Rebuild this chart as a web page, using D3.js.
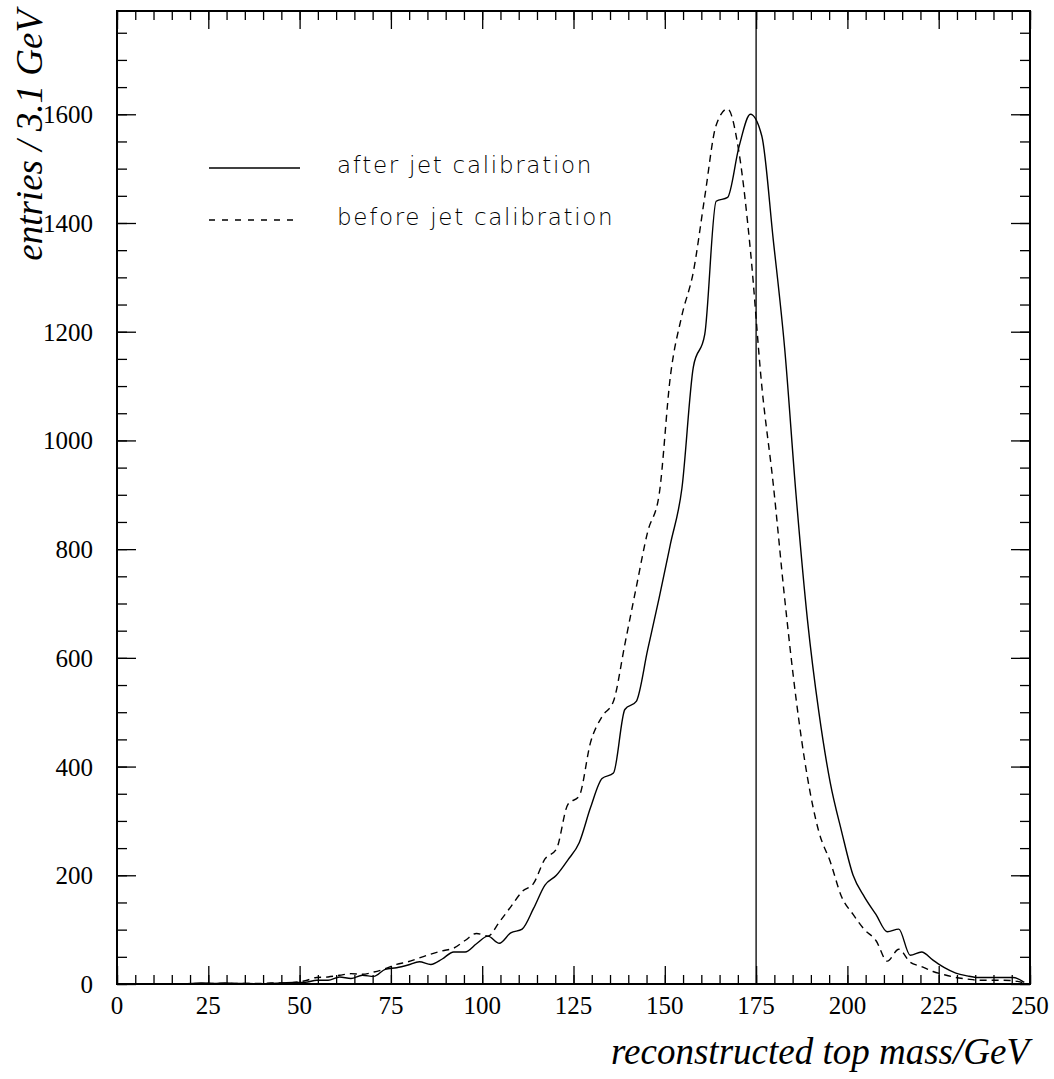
<!DOCTYPE html>
<html>
<head>
<meta charset="utf-8">
<script src="https://cdn.jsdelivr.net/npm/d3@7"></script>
<style>
body{margin:0;background:#fff;}
</style>
</head>
<body>
<svg id="chart" width="1054" height="1079"></svg>
<script>
// bin centres, 80 bins of 3.125 GeV from 0 to 250
const binWidth=3.125;
const centers=d3.range(80).map(i=>(i+0.5)*binWidth);

const after=[0,0,0,0,0,0,1,2,1,2,1,1,0,1,2,3,
    3,7,7,13,10,16,14,27,30,35,41,36,46,59,59,74,
    88,75,94,101,139,182,200,228,260,325,378,388,505,520,615,710,
    810,912,1135,1195,1440,1447,1540,1600,1560,1370,1170,900,670,500,
    370,280,200,160,128,96,101,53,59,44,30,20,15,12,12,12,12,3];

const before=[0,0,0,0,0,0,0,1,1,1,1,1,1,2,2,3,
    6,12,13,16,19,18,22,28,36,41,48,55,61,66,80,93,
    88,114,142,170,185,230,248,330,346,445,492,520,625,730,832,900,
    1120,1230,1310,1448,1580,1610,1530,1350,1100,920,710,525,380,280,
    225,160,128,100,80,42,64,40,32,23,17,12,9,7,7,7,6,2];

const legendLabels=["after jet calibration","before jet calibration"];
const xTicks=[0,25,50,75,100,125,150,175,200,225,250];
const yTicks=[0,200,400,600,800,1000,1200,1400,1600];
const topMass=175;

const svg=d3.select("#chart");
const margin={top:11,right:24,bottom:95,left:117};
const width=+svg.attr("width")-margin.left-margin.right;
const height=+svg.attr("height")-margin.top-margin.bottom;
const g=svg.append("g").attr("transform",`translate(${margin.left},${margin.top})`);

const x=d3.scaleLinear().domain([0,250]).range([0,width]);
const y=d3.scaleLinear().domain([0,1790]).range([height,0]);

const serif="'Liberation Serif','Times New Roman',serif";
const light="'DejaVu Sans ExtraLight','DejaVu Sans',sans-serif";

// ticks on all four sides, pointing inward
function ticks(axis,scale,values,len){
    return axis(scale).tickValues(values).tickSize(-len).tickFormat("");
}
const xMinor=d3.range(0,251,5), xMajor=d3.range(0,251,25);
const yMinor=d3.range(0,1790,50), yMajor=d3.range(0,1790,200);

[[9,xMinor],[18,xMajor]].forEach(([len,vals])=>{
    g.append("g").attr("transform",`translate(0,${height})`).call(ticks(d3.axisBottom,x,vals,len));
    g.append("g").call(ticks(d3.axisTop,x,vals,len));
});
[[10,yMinor],[19,yMajor]].forEach(([len,vals])=>{
    g.append("g").call(ticks(d3.axisLeft,y,vals,len));
    g.append("g").attr("transform",`translate(${width},0)`).call(ticks(d3.axisRight,y,vals,len));
});
g.selectAll(".domain").remove();
g.selectAll(".tick line").attr("stroke","#000").attr("stroke-width",1.3);

// tick labels
g.append("g").selectAll("text").data(xTicks).enter().append("text")
    .attr("x",d=>x(d)).attr("y",height+30)
    .attr("text-anchor","middle")
    .style("font-family",serif).style("font-size","25px")
    .text(d=>d);
g.append("g").selectAll("text").data(yTicks).enter().append("text")
    .attr("x",-24).attr("y",d=>y(d)+9)
    .attr("text-anchor","end")
    .style("font-family",serif).style("font-size","25px")
    .text(d=>d);

// frame
g.append("rect").attr("width",width).attr("height",height)
    .attr("fill","none").attr("stroke","#000").attr("stroke-width",2);

// vertical line at the top mass
g.append("line")
    .attr("x1",x(topMass)).attr("x2",x(topMass))
    .attr("y1",0).attr("y2",height)
    .attr("stroke","#000").attr("stroke-width",1.3);

const line=d3.line().x((d,i)=>x(centers[i])).y(d=>y(d)).curve(d3.curveMonotoneX);

g.append("path").datum(after)
    .attr("d",line).attr("fill","none")
    .attr("stroke","#000").attr("stroke-width",1.4);
g.append("path").datum(before)
    .attr("d",line).attr("fill","none")
    .attr("stroke","#000").attr("stroke-width",1.4)
    .attr("stroke-dasharray","7,5");

// legend
const legend=g.append("g");
legendLabels.forEach((lab,i)=>{
    const ly=157+i*52;
    legend.append("line")
        .attr("x1",92).attr("x2",183).attr("y1",ly).attr("y2",ly)
        .attr("stroke","#000").attr("stroke-width",1.3)
        .attr("stroke-dasharray",i==1?"6,7":null);
    legend.append("text")
        .attr("x",220).attr("y",ly+5)
        .attr("fill","#000")
        .style("font-family",light).style("font-weight",200)
        .style("font-size","23px").style("letter-spacing","1.7px")
        .text(lab);
});

// axis titles
svg.append("text")
    .attr("x",1029).attr("y",1064)
    .attr("text-anchor","end")
    .style("font-family",serif).style("font-style","italic").style("font-size","37px")
    .text("reconstructed top mass/GeV");
svg.append("text")
    .attr("transform","translate(42,10) rotate(-90)")
    .attr("text-anchor","end")
    .style("font-family",serif).style("font-style","italic").style("font-size","37px")
    .text("entries / 3.1 GeV");
</script>
</body>
</html>
